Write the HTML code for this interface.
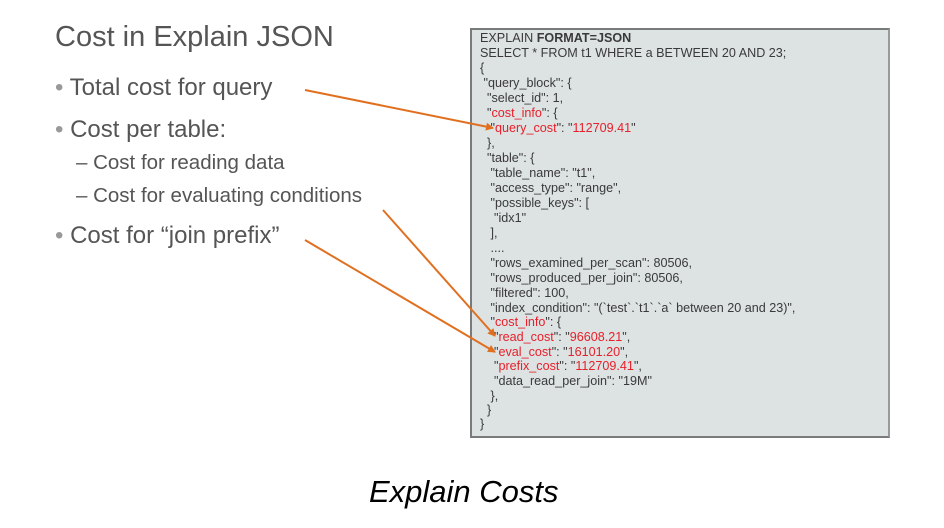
<!DOCTYPE html>
<html><head><style>
body{margin:0;width:944px;height:528px;background:#fff;position:relative;overflow:hidden;font-family:"Liberation Sans",sans-serif}
.t{position:absolute;color:#555;white-space:nowrap}
#box{position:absolute;left:470px;top:28px;width:416px;height:406px;border:2px solid #7a7a7a;border-right-color:#999;background:#dde2e3}
.l{position:absolute;left:8px;font-size:12.6px;color:#3a3a3a;white-space:pre;line-height:15px}
.r{color:#e8202a}
</style></head><body>
<div class="t" style="left:55px;top:21px;font-size:29px">Cost in Explain JSON</div>
<div class="t" style="left:55px;top:74px;font-size:24px"><span style="color:#999">•</span> Total cost for query</div>
<div class="t" style="left:55px;top:116px;font-size:24px"><span style="color:#999">•</span> Cost per table:</div>
<div class="t" style="left:76px;top:151px;font-size:20.5px">– Cost for reading data</div>
<div class="t" style="left:76px;top:184px;font-size:20.5px">– Cost for evaluating conditions</div>
<div class="t" style="left:55px;top:222px;font-size:24px"><span style="color:#999">•</span> Cost for “join prefix”</div>
<div id="box">
<div class="l" style="top:1px">EXPLAIN <b>FORMAT=JSON</b></div>
<div class="l" style="top:16px">SELECT * FROM t1 WHERE a BETWEEN 20 AND 23;</div>
<div class="l" style="top:31px">{</div>
<div class="l" style="top:46px"> "query_block": {</div>
<div class="l" style="top:61px">  "select_id": 1,</div>
<div class="l" style="top:76px">  "<span class="r">cost_info</span>": {</div>
<div class="l" style="top:91px">   "<span class="r">query_cost</span>": "<span class="r">112709.41</span>"</div>
<div class="l" style="top:106px">  },</div>
<div class="l" style="top:121px">  "table": {</div>
<div class="l" style="top:136px">   "table_name": "t1",</div>
<div class="l" style="top:151px">   "access_type": "range",</div>
<div class="l" style="top:166px">   "possible_keys": [</div>
<div class="l" style="top:181px">    "idx1"</div>
<div class="l" style="top:196px">   ],</div>
<div class="l" style="top:211px">   ....</div>
<div class="l" style="top:226px">   "rows_examined_per_scan": 80506,</div>
<div class="l" style="top:241px">   "rows_produced_per_join": 80506,</div>
<div class="l" style="top:256px">   "filtered": 100,</div>
<div class="l" style="top:271px">   "index_condition": "(`test`.`t1`.`a` between 20 and 23)",</div>
<div class="l" style="top:285px">   "<span class="r">cost_info</span>": {</div>
<div class="l" style="top:300px">    "<span class="r">read_cost</span>": "<span class="r">96608.21</span>",</div>
<div class="l" style="top:315px">    "<span class="r">eval_cost</span>": "<span class="r">16101.20</span>",</div>
<div class="l" style="top:329px">    "<span class="r">prefix_cost</span>": "<span class="r">112709.41</span>",</div>
<div class="l" style="top:344px">    "data_read_per_join": "19M"</div>
<div class="l" style="top:359px">   },</div>
<div class="l" style="top:373px">  }</div>
<div class="l" style="top:387px">}</div>
</div>
<svg width="944" height="528" style="position:absolute;left:0;top:0">
<defs><marker id="a" markerWidth="8" markerHeight="8" refX="7" refY="4" orient="auto" markerUnits="userSpaceOnUse"><path d="M0,0 L8,4 L0,8 z" fill="#e07020"/></marker></defs>
<g stroke="#e07020" stroke-width="2" fill="none" marker-end="url(#a)">
<line x1="305" y1="90" x2="493" y2="128"/>
<line x1="383" y1="210" x2="495" y2="336"/>
<line x1="305" y1="240" x2="495" y2="352"/>
</g></svg>
<div style="position:absolute;left:369px;top:474px;font-size:31px;font-style:italic;color:#000">Explain Costs</div>
</body></html>
